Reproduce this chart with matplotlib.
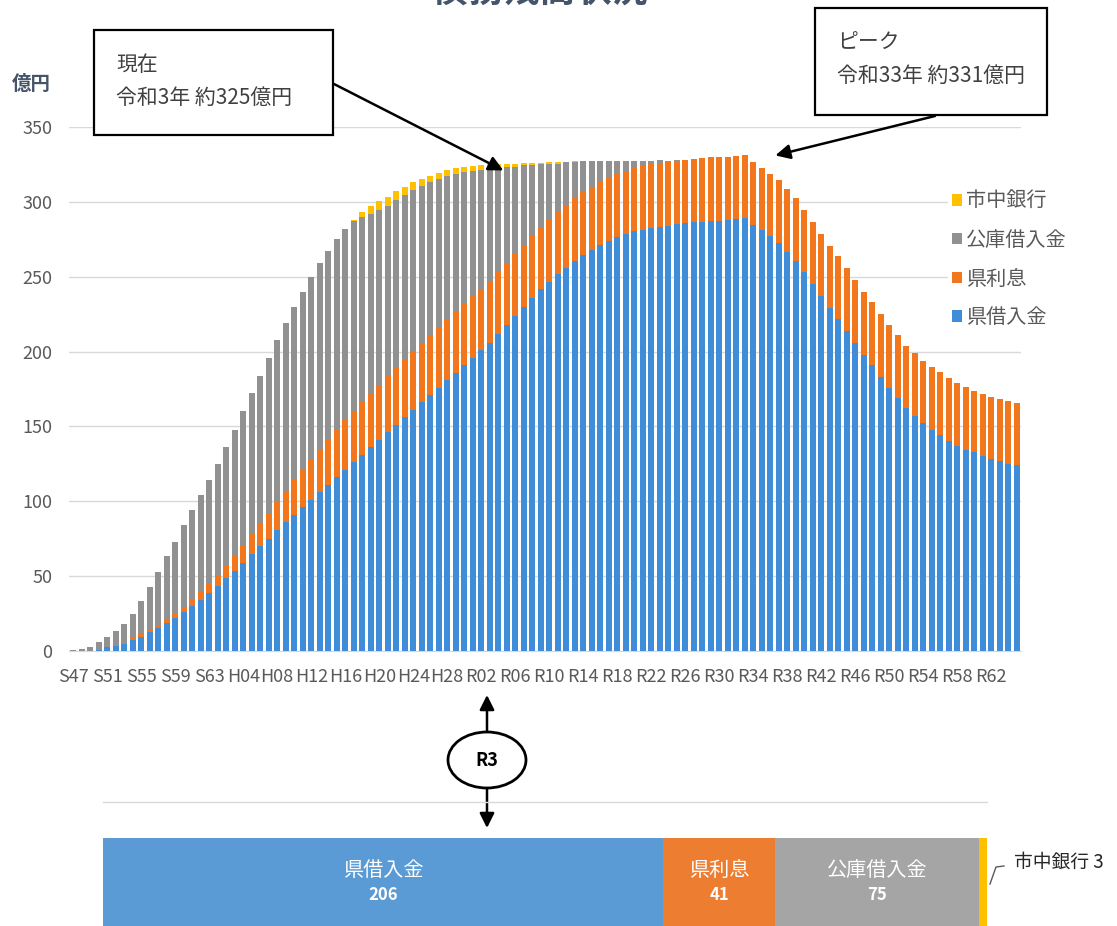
import numpy as np
import matplotlib
matplotlib.use('Agg')
import matplotlib.pyplot as plt
from matplotlib.patches import Rectangle, Ellipse
from matplotlib.lines import Line2D

plt.rcParams['font.family'] = ['Noto Sans CJK JP', 'DejaVu Sans']

W, H = 1117, 926

# 年度: S47(1972) .. R65(2083)
years = (['S%02d' % y for y in range(47, 64)] + ['H%02d' % y for y in range(1, 31)]
         + ['R%02d' % y for y in range(1, 66)])

# 億円
blue = [0, 0, 0, 0.5, 2.4, 3.3, 5, 7.3, 9.6, 12.9,
        15.5, 18.7, 22, 26.3, 30, 34, 38.5, 43.4, 48.5, 53.4,
        59, 65, 70, 75, 81, 86, 91, 96, 101, 106,
        111, 116, 121, 126, 131, 136, 141, 146, 151, 156,
        161, 166, 171, 176, 181, 186, 191, 196, 201, 206,
        212, 218, 224, 230, 236, 241.5, 246.5, 251.5, 256, 260.5,
        264.5, 268, 271, 274, 276.5, 278.5, 280.5, 281.5, 282.5, 283.5,
        284, 285, 285.6, 286.3, 286.8, 287.3, 287.5, 288, 288.4, 289,
        284.6, 281, 277, 272.7, 266.5, 260.5, 253, 245, 237, 229,
        222, 214, 206, 198, 191, 183, 176, 169, 162, 157,
        152, 147.6, 144.3, 140.5, 137, 134.3, 132.7, 130, 128, 126.6,
        124.9, 124.2]

orange = [0, 0, 0, 0, 0, 0.3, 0.5, 1.2, 1.5, 1.6,
          2.2, 2.2, 3.2, 3.3, 4, 5.6, 6.7, 7.4, 8.5, 10,
          12, 13.4, 15, 17, 19, 21, 23, 25, 27, 28.5,
          30, 31.5, 33, 34, 35, 36, 37, 38, 38.5, 39,
          39.5, 40, 40, 40.5, 40.5, 40.5, 41, 41, 41, 41,
          41, 41, 41.2, 41.2, 41.3, 41.4, 41.5, 41.6, 41.7, 41.8,
          41.9, 42, 42.1, 42.2, 42.3, 42.4, 42.5, 42.5, 42.5, 42.5,
          42.5, 42.5, 42.5, 42.5, 42.5, 42.5, 42.3, 42.2, 42.2, 42,
          42, 41.8, 41.8, 41.8, 41.8, 41.8, 41.8, 41.8, 41.8, 41.8,
          41.8, 41.8, 41.8, 41.8, 41.8, 41.8, 41.8, 41.8, 41.8, 41.8,
          41.8, 41.8, 41.8, 41.8, 41.8, 41.9, 41.2, 41.7, 41.9, 41.7,
          42.1, 41.3]

gray = [1, 1.5, 3, 5.3, 6.9, 10, 12.5, 16.5, 22.5, 28.5,
        35.3, 42.6, 47.8, 54.4, 60, 64.4, 68.8, 74.2, 79, 84.5,
        89, 93.6, 99, 104, 108, 112, 116, 119, 122, 124.5,
        126, 127.5, 128, 127, 124, 120, 116.5, 113.5, 111.5, 109.5,
        107.5, 104.5, 102, 98.5, 95.5, 92, 88, 83.5, 79.5, 75,
        69.7, 64.4, 58.4, 53.1, 47.2, 42.3, 37.4, 32.5, 28.6, 24.2,
        20.6, 17.2, 14.1, 11.1, 8.6, 6.6, 4.5, 3.5, 2.5, 2,
        1, 0.5, 0, 0, 0, 0, 0, 0, 0, 0,
        0, 0, 0, 0, 0, 0, 0, 0, 0, 0,
        0, 0, 0, 0, 0, 0, 0, 0, 0, 0,
        0, 0, 0, 0, 0, 0, 0, 0, 0, 0,
        0, 0]

yellow = [0, 0, 0, 0, 0, 0, 0, 0, 0, 0,
          0, 0, 0, 0, 0, 0, 0, 0, 0, 0,
          0, 0, 0, 0, 0, 0, 0, 0, 0, 0,
          0, 0, 0, 1, 3, 5, 6, 6, 6, 5.5,
          5, 5, 4.5, 4.5, 4, 4, 3.5, 3.5, 3, 3,
          2.5, 2, 2, 1.5, 1.5, 1, 1, 1, 0.5, 0.5,
          0, 0, 0, 0, 0, 0, 0, 0, 0, 0,
          0, 0, 0, 0, 0, 0, 0, 0, 0, 0,
          0, 0, 0, 0, 0, 0, 0, 0, 0, 0,
          0, 0, 0, 0, 0, 0, 0, 0, 0, 0,
          0, 0, 0, 0, 0, 0, 0, 0, 0, 0,
          0, 0]

# R3 breakdown
r3_labels = ['県借入金', '県利息', '公庫借入金', '市中銀行']
r3_values = [206, 41, 75, 3]

c_blue, c_orange, c_gray, c_yellow = '#3f8cd8', '#f2761b', '#919191', '#ffc000'
c_blue2, c_orange2, c_gray2 = '#5b9bd5', '#ed7d31', '#a5a5a5'


def fx(px):
    return px / W


def fy(py):
    return 1 - py / H


fig = plt.figure(figsize=(W / 100, H / 100), dpi=100)
ax = fig.add_axes([fx(69), fy(651), 952 / W, 524 / H])

x = np.arange(len(years))
b = np.array(blue)
o = np.array(orange)
g = np.array(gray)
yl = np.array(yellow)
bw = 0.72
h1 = ax.bar(x, b, bw, color=c_blue, label='県借入金', zorder=3)
h2 = ax.bar(x, o, bw, bottom=b, color=c_orange, label='県利息', zorder=3)
h3 = ax.bar(x, g, bw, bottom=b + o, color=c_gray, label='公庫借入金', zorder=3)
h4 = ax.bar(x, yl, bw, bottom=b + o + g, color=c_yellow, label='市中銀行', zorder=3)

ax.set_xlim(-0.5, len(years) - 0.5)
ax.set_ylim(0, 350)
ax.set_yticks(range(0, 351, 50))
ax.set_xticks(x[::4])
ax.set_xticklabels(years[::4])
ax.grid(axis='y', color='#d9d9d9', lw=1, zorder=0)
for s in ['top', 'right', 'left']:
    ax.spines[s].set_visible(False)
ax.spines['bottom'].set_color('#d9d9d9')
ax.tick_params(length=0, labelsize=13, colors='#595959')
ax.tick_params(axis='x', pad=12)
ax.tick_params(axis='y', pad=12)

leg = ax.legend(handles=[h4, h3, h2, h1], loc='upper left',
                bbox_to_anchor=(fx(938), fy(177)), bbox_transform=fig.transFigure,
                fontsize=14.5, handlelength=0.5, handleheight=0.5, handletextpad=0.2,
                labelspacing=0.88, borderpad=0.2, frameon=True)
leg.get_frame().set_edgecolor('none')
leg.get_frame().set_facecolor('white')
leg.get_frame().set_alpha(1)
for t in leg.get_texts():
    t.set_color('#595959')

# title (cut off at the top) and unit
fig.text(fx(540), fy(-9), '債務残高状況', ha='center', va='center', fontsize=26,
         fontweight='bold', color='#44546a')
fig.text(fx(31), fy(84), '億円', ha='center', va='center', fontsize=14,
         color='#44546a', fontweight='bold')

# callout boxes
for (x0, y0, x1, y1), l1, l2 in [((94, 30, 333, 135), '現在', '令和3年 約325億円'),
                                 ((815, 8, 1047, 115), 'ピーク', '令和33年 約331億円')]:
    fig.add_artist(Rectangle((fx(x0), fy(y1)), fx(x1) - fx(x0), fy(y0) - fy(y1),
                             transform=fig.transFigure, facecolor='white',
                             edgecolor='black', lw=1.6, zorder=5))
    fig.text(fx(x0 + 22), fy(y0 + 35), l1, ha='left', va='center', fontsize=15,
             color='#404040', zorder=6)
    fig.text(fx(x0 + 22), fy(y0 + 68), l2, ha='left', va='center', fontsize=15,
             color='#404040', zorder=6)

arrow = dict(arrowstyle='-|>', color='black', lw=1.8, mutation_scale=22,
             shrinkA=0, shrinkB=0)
ax.annotate('', xy=(50.6, 321), xycoords='data', xytext=(fx(334), fy(84)),
            textcoords='figure fraction', arrowprops=arrow, annotation_clip=False)
ax.annotate('', xy=(82.6, 331), xycoords='data', xytext=(fx(935), fy(116)),
            textcoords='figure fraction', arrowprops=arrow, annotation_clip=False)

# R3 marker
fig.add_artist(Ellipse((fx(487), fy(760)), 78 / W, 56 / H, transform=fig.transFigure,
                       facecolor='white', edgecolor='black', lw=2))
fig.text(fx(487), fy(760), 'R3', ha='center', va='center', fontsize=13,
         fontweight='bold', color='black')
ax.annotate('', xy=(fx(487), fy(695)), xycoords='figure fraction',
            xytext=(fx(487), fy(732)), textcoords='figure fraction',
            arrowprops=arrow, annotation_clip=False)
ax.annotate('', xy=(fx(487), fy(828)), xycoords='figure fraction',
            xytext=(fx(487), fy(788)), textcoords='figure fraction',
            arrowprops=arrow, annotation_clip=False)

# R3 breakdown bar
ax2 = fig.add_axes([fx(103), 0, 884 / W, 124 / H])
ax2.set_xlim(0, sum(r3_values))
ax2.set_ylim(0, 1)
ax2.axis('off')
ax2.axhline(1, color='#d9d9d9', lw=1, clip_on=False)
left = np.concatenate([[0], np.cumsum(r3_values)[:-1]])
cols = [c_blue2, c_orange2, c_gray2, c_yellow]
ax2.barh(0.3, r3_values, height=0.82, left=left, color=cols)
for i in range(3):
    cx = left[i] + r3_values[i] / 2
    ax2.text(cx, 0.45, r3_labels[i], ha='center', va='center', fontsize=14.5, color='white')
    ax2.text(cx, 0.25, str(r3_values[i]), ha='center', va='center', fontsize=12,
             fontweight='bold', color='white')

fig.add_artist(Line2D([fx(990), fx(996), fx(1004)], [fy(884), fy(867), fy(866)],
                      transform=fig.transFigure, color='#595959', lw=1))
fig.text(fx(1014), fy(862), '%s %d' % (r3_labels[3], r3_values[3]), ha='left',
         va='center', fontsize=13.5, color='#262626')

fig.savefig('out.png', dpi=100)
